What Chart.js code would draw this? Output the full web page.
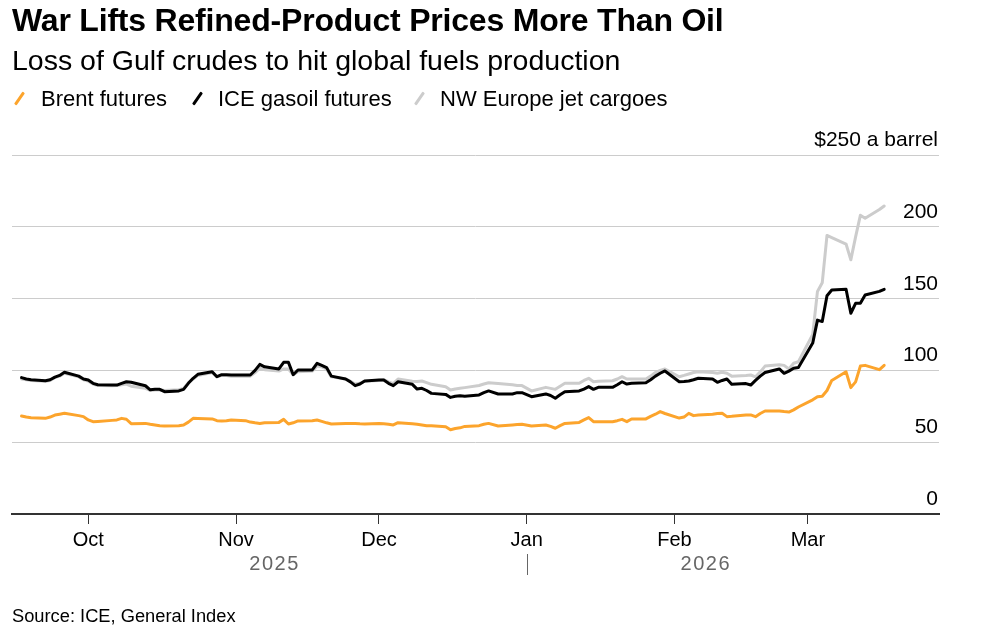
<!DOCTYPE html>
<html>
<head>
<meta charset="utf-8">
<script src="https://cdn.jsdelivr.net/npm/chart.js@4.4.1/dist/chart.umd.min.js"></script>
<style>
  html, body { margin: 0; padding: 0; background: #fff; }
  body { width: 986px; height: 636px; position: relative; overflow: hidden; font-family: 'Liberation Sans', Arial, sans-serif; color: #000; }
  #chart { position: absolute; left: 0; top: 0; }
  .txt { position: absolute; white-space: nowrap; line-height: 1; }
  #title { left: 12px; top: 4px; font-size: 32px; font-weight: bold; letter-spacing: -0.2px; }
  #subtitle { left: 12px; top: 46px; font-size: 28.5px; }
  .leg { position: absolute; top: 88px; font-size: 22px; line-height: 1; white-space: nowrap; }
  .leg i { position: absolute; width: 3px; height: 15px; top: 3px; transform: rotate(35deg); border-radius: 1px; }
  #source { left: 12px; top: 607px; font-size: 18.3px; }
</style>
</head>
<body>
<canvas id="chart" width="986" height="636"></canvas>
<div class="txt" id="title">War Lifts Refined-Product Prices More Than Oil</div>
<div class="txt" id="subtitle">Loss of Gulf crudes to hit global fuels production</div>
<div class="leg" style="left:41px"><i style="left:-23px;background:#fca42c"></i>Brent futures</div>
<div class="leg" style="left:218px"><i style="left:-22px;background:#000"></i>ICE gasoil futures</div>
<div class="leg" style="left:440px"><i style="left:-22px;background:#cccccc"></i>NW Europe jet cargoes</div>
<div class="txt" id="source">Source: ICE, General Index</div>
<script>
const dates = [
  '2025-09-17','2025-09-18','2025-09-19','2025-09-22','2025-09-23','2025-09-24','2025-09-25','2025-09-26','2025-09-29','2025-09-30',
  '2025-10-01','2025-10-02','2025-10-03','2025-10-06','2025-10-07','2025-10-08','2025-10-09','2025-10-10','2025-10-13','2025-10-14','2025-10-15','2025-10-16','2025-10-17','2025-10-20','2025-10-21','2025-10-22','2025-10-23','2025-10-24','2025-10-27','2025-10-28','2025-10-29','2025-10-30','2025-10-31',
  '2025-11-03','2025-11-04','2025-11-05','2025-11-06','2025-11-07','2025-11-10','2025-11-11','2025-11-12','2025-11-13','2025-11-14','2025-11-17','2025-11-18','2025-11-19','2025-11-20','2025-11-21','2025-11-24','2025-11-25','2025-11-26','2025-11-27','2025-11-28',
  '2025-12-01','2025-12-02','2025-12-03','2025-12-04','2025-12-05','2025-12-08','2025-12-09','2025-12-10','2025-12-11','2025-12-12','2025-12-15','2025-12-16','2025-12-17','2025-12-18','2025-12-19','2025-12-22','2025-12-23','2025-12-24','2025-12-26','2025-12-29','2025-12-30','2025-12-31',
  '2026-01-02','2026-01-05','2026-01-06','2026-01-07','2026-01-08','2026-01-09','2026-01-12','2026-01-13','2026-01-14','2026-01-15','2026-01-16','2026-01-19','2026-01-20','2026-01-21','2026-01-22','2026-01-23','2026-01-26','2026-01-27','2026-01-28','2026-01-29','2026-01-30',
  '2026-02-02','2026-02-03','2026-02-04','2026-02-05','2026-02-06','2026-02-09','2026-02-10','2026-02-11','2026-02-12','2026-02-13','2026-02-16','2026-02-17','2026-02-18','2026-02-19','2026-02-20','2026-02-23','2026-02-24','2026-02-25','2026-02-26','2026-02-27',
  '2026-03-02','2026-03-03','2026-03-04','2026-03-05','2026-03-06','2026-03-09','2026-03-10','2026-03-11','2026-03-12','2026-03-13','2026-03-16','2026-03-17'
];

// $ a barrel
const brent = [
  68.2, 67.5, 67.1, 66.6, 67.5, 68.9, 69.5, 70.1, 68.5, 67.8,
  65.5, 64.3, 64.5, 65.2, 65.5, 66.6, 66, 62.9, 63.1, 62.5, 62, 61.5, 61.3, 61.5, 62, 64, 66.6, 66.5, 66.2, 65, 64.8, 65, 65.5,
  65, 64, 63.5, 63.1, 63.5, 63.8, 65.9, 62.7, 63.5, 64.8, 65, 65.5, 64.5, 63.5, 62.7, 63, 63.1, 63, 62.8, 62.7,
  63.1, 62.8, 62.5, 62, 63.6, 62.8, 62.5, 62, 61.5, 61.5, 60.8, 58.7, 59.5, 60, 61, 61.5, 62.5, 63.1, 61.3, 62, 62.3, 62.5,
  61.3, 62, 61, 59.7, 61.5, 63.1, 63.8, 65.5, 67.1, 64.3, 64.3, 64.3, 65, 65.9, 64.3, 66.2, 66.2, 68, 69.5, 71.3, 70,
  66.8, 67.5, 70.1, 68.5, 68.9, 69.4, 70, 70.1, 67.8, 68, 68.9, 69, 67.8, 70, 71.7, 71.7, 71.3, 71, 72.5, 74.5,
  79.5, 81.7, 82, 86, 93, 99, 88, 92, 103, 103.5, 100.5, 103.5
];
const gasoil = [
  95, 94, 93.5, 92.8, 93.5, 95.3, 96.5, 98.7, 96, 94,
  93.3, 91, 90, 89.8, 89.8, 91, 92.1, 91.7, 89.3, 86.5, 86.8, 86.8, 85.2, 85.7, 86.8, 91, 94.5, 97.3, 99.1, 95.6, 97, 97, 96.8,
  96.8, 96.8, 100, 104.2, 102.5, 101, 105.6, 105.6, 97, 100.3, 100.3, 104.9, 103.5, 102, 96, 94, 92, 89.4, 90.5, 92.6,
  93.3, 93.3, 91, 89.4, 92.1, 90.3, 87, 87.5, 86, 84, 83.3, 81.2, 82, 82.4, 82, 82.9, 84.5, 85.7, 83.6, 83.6, 84.5, 84.5,
  81.7, 83.6, 82.5, 80.6, 83, 85.2, 85.7, 87, 88.7, 86.8, 88.2, 88.2, 90, 92.1, 90.5, 91, 91.4, 93.5, 96, 98, 99.6,
  92.1, 92.3, 92.6, 93.5, 94.5, 94, 91.7, 93, 94, 90.3, 90.8, 89.8, 93, 96, 98.5, 101, 98, 99.5, 101.5, 102,
  119, 135, 134, 152, 156, 156.5, 139.8, 146.7, 146.7, 152.5, 155, 156.5
];
const jet = [
  94, 93.5, 93, 92.5, 93, 95, 96, 98, 95.5, 93.5,
  92.5, 90.5, 89.5, 89.3, 89.5, 90, 90.5, 89, 87.5, 86, 86.3, 86.5, 86, 86.5, 87.5, 91.5, 94, 96.5, 98.5, 95.5, 96.5, 96.5, 96,
  96, 96, 98.5, 101.5, 100.5, 99.5, 101, 101, 97, 99, 99.5, 103, 102.5, 101, 95.5, 94, 92.5, 90.5, 91, 92.5,
  93, 93.5, 92, 90.8, 94, 92.5, 92.3, 92.6, 91.5, 90.3, 88.6, 86.3, 87, 87.5, 88, 89.5, 90.5, 91.4, 90.8, 90, 89.5, 89.4,
  85.7, 88.2, 87.5, 86.8, 89, 91, 91, 93, 94.5, 92.1, 92.5, 92.8, 94, 95.6, 94, 94, 94, 96, 98.5, 100, 101,
  95.6, 96.5, 97.5, 98.5, 99, 98.5, 98, 98.7, 98, 96, 96.5, 96.8, 95.5, 99, 103, 104, 103.5, 101, 105, 106,
  125, 155, 161, 194, 192.5, 188, 177, 193, 208, 206, 212, 214.5
];

const monthTicks = ['2025-10-01', '2025-11-01', '2025-12-01', '2026-01-01', '2026-02-01', '2026-03-01'];
const monthLabels = ['Oct', 'Nov', 'Dec', 'Jan', 'Feb', 'Mar'];
const yTicks = [0, 50, 100, 150, 200, 250];
const yTickLabels = ['0', '50', '100', '150', '200', '$250 a barrel'];
const yearLabels = ['2025', '2026'];
const yearBreak = '2026-01-01';

// days since 1 Oct 2025, so a linear axis can stand in for a time axis
const origin = Date.parse('2025-10-01');
const dayOf = s => (Date.parse(s) - origin) / 864e5;

const toPoints = vals => vals.map((v, i) => ({ x: dayOf(dates[i]), y: v }));
const FONT = "'Liberation Sans', Arial, sans-serif";

const labelsPlugin = {
  id: 'labels',
  afterDraw(chart) {
    const { ctx, scales: { x, y }, chartArea } = chart;
    ctx.save();
    // y labels sit just above their gridlines, right aligned
    ctx.font = '21px ' + FONT;
    ctx.fillStyle = '#000';
    ctx.textAlign = 'right';
    ctx.textBaseline = 'alphabetic';
    yTicks.forEach((v, i) => {
      ctx.fillText(yTickLabels[i], chartArea.right - 1, y.getPixelForValue(v) - 9);
    });
    // year row
    const firstX = x.getPixelForValue(dayOf(dates[0]));
    const lastX = x.getPixelForValue(dayOf(dates[dates.length - 1]));
    const breakX = Math.round(x.getPixelForValue(dayOf(yearBreak))) + 0.5;
    ctx.font = '20px ' + FONT;
    ctx.fillStyle = '#666';
    ctx.textAlign = 'center';
    if ('letterSpacing' in ctx) ctx.letterSpacing = '1.5px';
    ctx.fillText(yearLabels[0], (firstX + breakX) / 2, 570);
    ctx.fillText(yearLabels[1], (breakX + lastX) / 2, 570);
    ctx.strokeStyle = '#666';
    ctx.lineWidth = 1;
    ctx.beginPath();
    ctx.moveTo(breakX, 554);
    ctx.lineTo(breakX, 575);
    ctx.stroke();
    ctx.restore();
  }
};

new Chart(document.getElementById('chart'), {
  type: 'line',
  data: {
    datasets: [
      { label: 'Brent futures', data: toPoints(brent), borderColor: '#fca42c' },
      { label: 'ICE gasoil futures', data: toPoints(gasoil), borderColor: '#000000' },
      { label: 'NW Europe jet cargoes', data: toPoints(jet), borderColor: '#cccccc' }
    ]
  },
  options: {
    responsive: false,
    animation: false,
    devicePixelRatio: 1,
    layout: { padding: { left: 12, right: 47, top: 155, bottom: 0 } },
    elements: {
      line: { borderWidth: 3, tension: 0, borderJoinStyle: 'round', borderCapStyle: 'round', fill: false },
      point: { radius: 0 }
    },
    plugins: { legend: { display: false }, tooltip: { enabled: false } },
    scales: {
      x: {
        type: 'linear',
        min: dayOf('2025-09-15'),
        max: dayOf('2026-03-28') + 0.5,
        afterFit: s => { s.height = 122; },
        afterBuildTicks: s => { s.ticks = monthTicks.map(d => ({ value: dayOf(d) })); },
        grid: { drawOnChartArea: false, drawTicks: true, tickLength: 10, color: '#333', lineWidth: 1 },
        border: { display: true, color: '#333', width: 2 },
        ticks: {
          autoSkip: false, maxRotation: 0, padding: 4, color: '#000',
          font: { family: FONT, size: 20 },
          callback: (v) => {
            const i = monthTicks.findIndex(d => dayOf(d) === v);
            return i >= 0 ? monthLabels[i] : '';
          }
        }
      },
      y: {
        position: 'right',
        min: 0,
        max: 250,
        afterFit: s => { s.width = 0; },
        afterBuildTicks: s => { s.ticks = yTicks.map(v => ({ value: v })); },
        grid: { color: '#cccccc', lineWidth: 1, drawTicks: false },
        border: { display: false },
        ticks: { display: false }
      }
    }
  },
  plugins: [labelsPlugin]
});
</script>
</body>
</html>
